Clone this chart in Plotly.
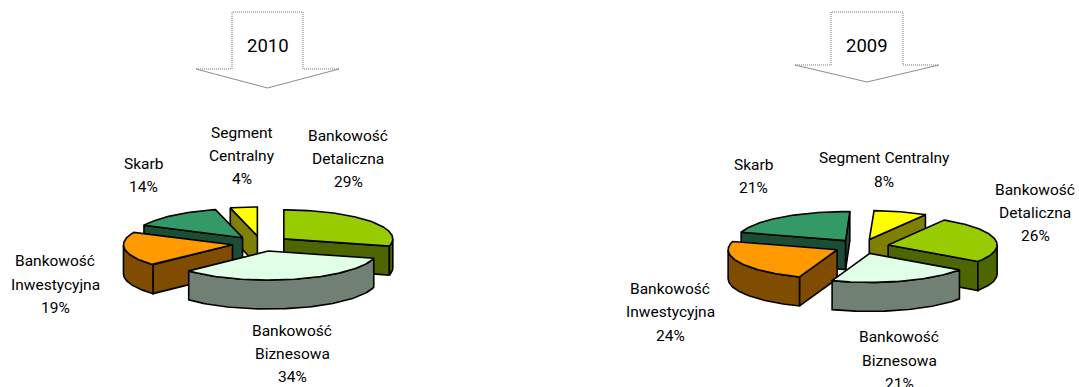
import numpy as np
import plotly.graph_objects as go

# Segment shares per year, in percent
segments = ["Bankowość Detaliczna", "Bankowość Biznesowa", "Bankowość Inwestycyjna", "Skarb", "Segment Centralny"]
label_lines = [["Bankowość", "Detaliczna"], ["Bankowość", "Biznesowa"], ["Bankowość", "Inwestycyjna"], ["Skarb"], ["Segment", "Centralny"]]
label_lines_2009 = [["Bankowość", "Detaliczna"], ["Bankowość", "Biznesowa"], ["Bankowość", "Inwestycyjna"], ["Skarb"], ["Segment Centralny"]]
values_2010 = [29, 34, 19, 14, 4]
values_2009 = [26, 21, 24, 21, 8]

top_colors = ["#99CC00", "#E0FFE6", "#FF9900", "#339966", "#FFFF00"]
side_colors = ["#4D6600", "#708073", "#804D00", "#1A4D33", "#808000"]

FONT = "Roboto, Liberation Sans, sans-serif"
RX, RY, DEPTH = 109, 29, 29


def point(cx, cy, angle):
    """Screen position on the ellipse; angle in degrees, clockwise from 12 o'clock."""
    a = np.radians(angle)
    return cx + RX * np.sin(a), cy - RY * np.cos(a)


def polygon(fig, xs, ys, color):
    fig.add_trace(go.Scatter(x=xs, y=ys, mode="lines", fill="toself", fillcolor=color,
                             line=dict(color="black", width=1.6), hoverinfo="skip", showlegend=False))


def draw_pie(fig, values, cx, cy, start, explode, order):
    """Draw an exploded, tilted pie; slices are painted back to front."""
    edges = start + np.concatenate([[0], np.cumsum(values)]) * 3.6
    for i in order:
        a0, a1 = edges[i], edges[i + 1]
        mid = np.radians((a0 + a1) / 2)
        ax = cx + explode * RX * np.sin(mid)
        ay = cy - explode * RY * np.cos(mid)
        # cut faces turned towards the viewer
        for ang, visible in ((a0, np.sin(np.radians(a0)) < -1e-6), (a1, np.sin(np.radians(a1)) > 1e-6)):
            if visible:
                ex, ey = point(ax, ay, ang)
                polygon(fig, [ax, ex, ex, ax, ax], [ay, ey, ey + DEPTH, ay + DEPTH, ay], side_colors[i])
        # outer wall on the near half of the rim
        lo, hi = max(a0, 90), min(a1, 270)
        if hi > lo:
            t = np.linspace(lo, hi, 60)
            rx, ry = point(ax, ay, t)
            polygon(fig, np.r_[rx, rx[::-1], rx[0]], np.r_[ry, ry[::-1] + DEPTH, ry[0]], side_colors[i])
        # top surface
        t = np.linspace(a0, a1, 90)
        tx, ty = point(ax, ay, t)
        polygon(fig, np.r_[ax, tx, ax], np.r_[ay, ty, ay], top_colors[i])


def arrow_shapes(left, shaft_l, shaft_r, right, top, shoulder, tip_y):
    """White block arrow: finely stippled shaft outline, thin solid head."""
    tip_x = (left + right) / 2
    base = dict(type="path", xref="x", yref="y", layer="above")
    return [
        dict(base, path=f"M{shaft_l},{top} L{shaft_r},{top} L{shaft_r},{shoulder} L{right},{shoulder} "
                        f"L{tip_x},{tip_y} L{left},{shoulder} L{shaft_l},{shoulder} Z",
             line=dict(width=0), fillcolor="white"),
        dict(base, path=f"M{left},{shoulder} L{shaft_l},{shoulder} L{shaft_l},{top} L{shaft_r},{top} "
                        f"L{shaft_r},{shoulder} L{right},{shoulder}",
             line=dict(color="#777777", width=1, dash="1px,1px")),
        dict(base, path=f"M{left},{shoulder} L{tip_x},{tip_y} L{right},{shoulder}",
             line=dict(color="#8C8C8C", width=1)),
    ]


def add_lines(fig, x, y_lines, lines):
    for y, text in zip(y_lines, lines):
        fig.add_annotation(x=x, y=y, text=text, showarrow=False, xanchor="center", yanchor="middle",
                           font=dict(family=FONT, size=15.5, color="black"))


fig = go.Figure()
draw_pie(fig, values_2010, 261, 243.6, 0, 0.265, [4, 3, 0, 2, 1])
draw_pie(fig, values_2009, 861.5, 246.5, 31, 0.25, [3, 4, 0, 2, 1])

# Label anchor for each segment: centre x and the y of every text line
anchors_2010 = [(348, [136, 159, 182]), (292, [331, 354, 377]), (55, [261, 285, 308]), (143, [164, 187]), (242, [133, 156, 179])]
anchors_2009 = [(1035, [190, 213, 236]), (899, [337, 361, 384]), (670, [289, 312, 336]), (753, [165, 188]), (884, [158, 182])]

for names, vals, anchors in ((label_lines, values_2010, anchors_2010), (label_lines_2009, values_2009, anchors_2009)):
    for lines, v, (x, ys) in zip(names, vals, anchors):
        add_lines(fig, x, ys, lines + [f"{v}%"])

fig.add_annotation(x=268, y=46, text="2010", showarrow=False, font=dict(family=FONT, size=18.5, color="black"))
fig.add_annotation(x=867, y=46, text="2009", showarrow=False, font=dict(family=FONT, size=18.5, color="black"))

fig.update_layout(
    width=1079, height=387, margin=dict(l=0, r=0, t=0, b=0),
    paper_bgcolor="white", plot_bgcolor="white",
    xaxis=dict(range=[0, 1079], visible=False, fixedrange=True),
    yaxis=dict(range=[387, 0], visible=False, fixedrange=True),
    shapes=arrow_shapes(196, 232, 303, 339, 12, 69, 88) + arrow_shapes(795, 831, 903, 939, 12, 65, 82),
)
fig.write_html("out.html", config=dict(displayModeBar=False))
